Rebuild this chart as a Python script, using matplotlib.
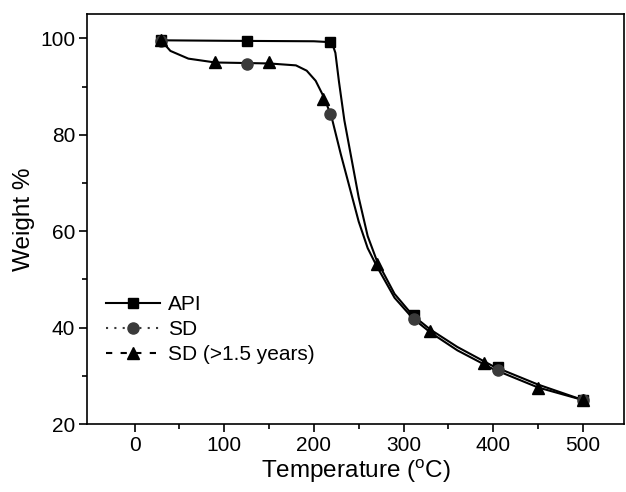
import matplotlib.pyplot as plt
from matplotlib.lines import Line2D

plt.rcParams['font.family'] = ['Liberation Sans', 'DejaVu Sans']

# marker points
api_t = [30, 125, 218, 312, 405, 500]
api_w = [99.6, 99.5, 99.2, 42.6, 31.8, 25.0]
sd_t = [30, 125, 218, 312, 405, 500]
sd_w = [99.5, 94.6, 84.3, 41.8, 31.2, 25.0]
aged_t = [30, 90, 150, 210, 270, 330, 390, 450, 500]
aged_w = [99.6, 95.0, 95.0, 87.5, 53.3, 39.3, 32.7, 27.5, 25.0]

# curve traces
api_ct = [30, 100, 200, 220, 224, 228, 234, 240, 250, 260, 270, 290, 310, 330, 360, 400, 450, 500]
api_cw = [99.6, 99.5, 99.4, 99.2, 97, 91, 83, 77, 67, 59, 54, 47, 42.6, 39.6, 36, 32, 28.2, 25.0]
sd_ct = [30, 40, 60, 90, 150, 180, 192, 202, 212, 220, 230, 240, 250, 260, 270, 290, 310, 330, 360, 400, 450, 500]
sd_cw = [99.5, 97.4, 95.8, 95.0, 94.8, 94.4, 93.3, 91.2, 87.5, 83.5, 76, 69, 62, 56.5, 52.8, 46.2, 42.0, 39.0, 35.3, 31.4, 27.6, 25.0]

fig = plt.figure(figsize=(6.26, 4.92), dpi=100)
ax = fig.add_axes([0.139, 0.138, 0.858, 0.833])

ax.plot(api_ct, api_cw, color='black', lw=1.5)
ax.plot(sd_ct, sd_cw, color='black', lw=1.5)
ax.plot(api_t, api_w, 's', color='black', ms=7.5, zorder=3)
ax.plot(sd_t, sd_w, 'o', color='#3a3a3a', ms=8, zorder=3)
ax.plot(aged_t, aged_w, '^', color='black', ms=8.5, zorder=4)

ax.set_xlim(-53, 546)
ax.set_ylim(20, 105)
ax.set_xticks([0, 100, 200, 300, 400, 500])
ax.set_xticks([50, 150, 250, 350, 450], minor=True)
ax.set_yticks([20, 40, 60, 80, 100])
ax.set_yticks([30, 50, 70, 90], minor=True)
ax.tick_params(which='both', direction='out', top=False, right=False, labelsize=15, width=1.2)
ax.tick_params(which='major', length=6, pad=2.5)
ax.tick_params(which='minor', length=3.5)
for s in ax.spines.values():
    s.set_linewidth(1.2)

ax.set_xlabel(r'Temperature ($\mathregular{^o}$C)', fontsize=17.5, labelpad=2)
ax.set_ylabel('Weight %', fontsize=17.5, labelpad=4)

handles = [
    Line2D([], [], color='black', ls='-', lw=1.5, marker='s', ms=7.5),
    Line2D([], [], color='#3a3a3a', ls=(0, (1, 3)), lw=1.5, marker='o', ms=8),
    Line2D([], [], color='black', ls=(0, (3, 4)), lw=1.5, marker='^', ms=8.5),
]
ax.legend(handles, ['API', 'SD', 'SD (>1.5 years)'], loc='lower left', bbox_to_anchor=(0.0, 0.1),
          frameon=False, fontsize=15, handlelength=2.6, handletextpad=0.4, labelspacing=0.3)

fig.savefig('out.png', dpi=100)
